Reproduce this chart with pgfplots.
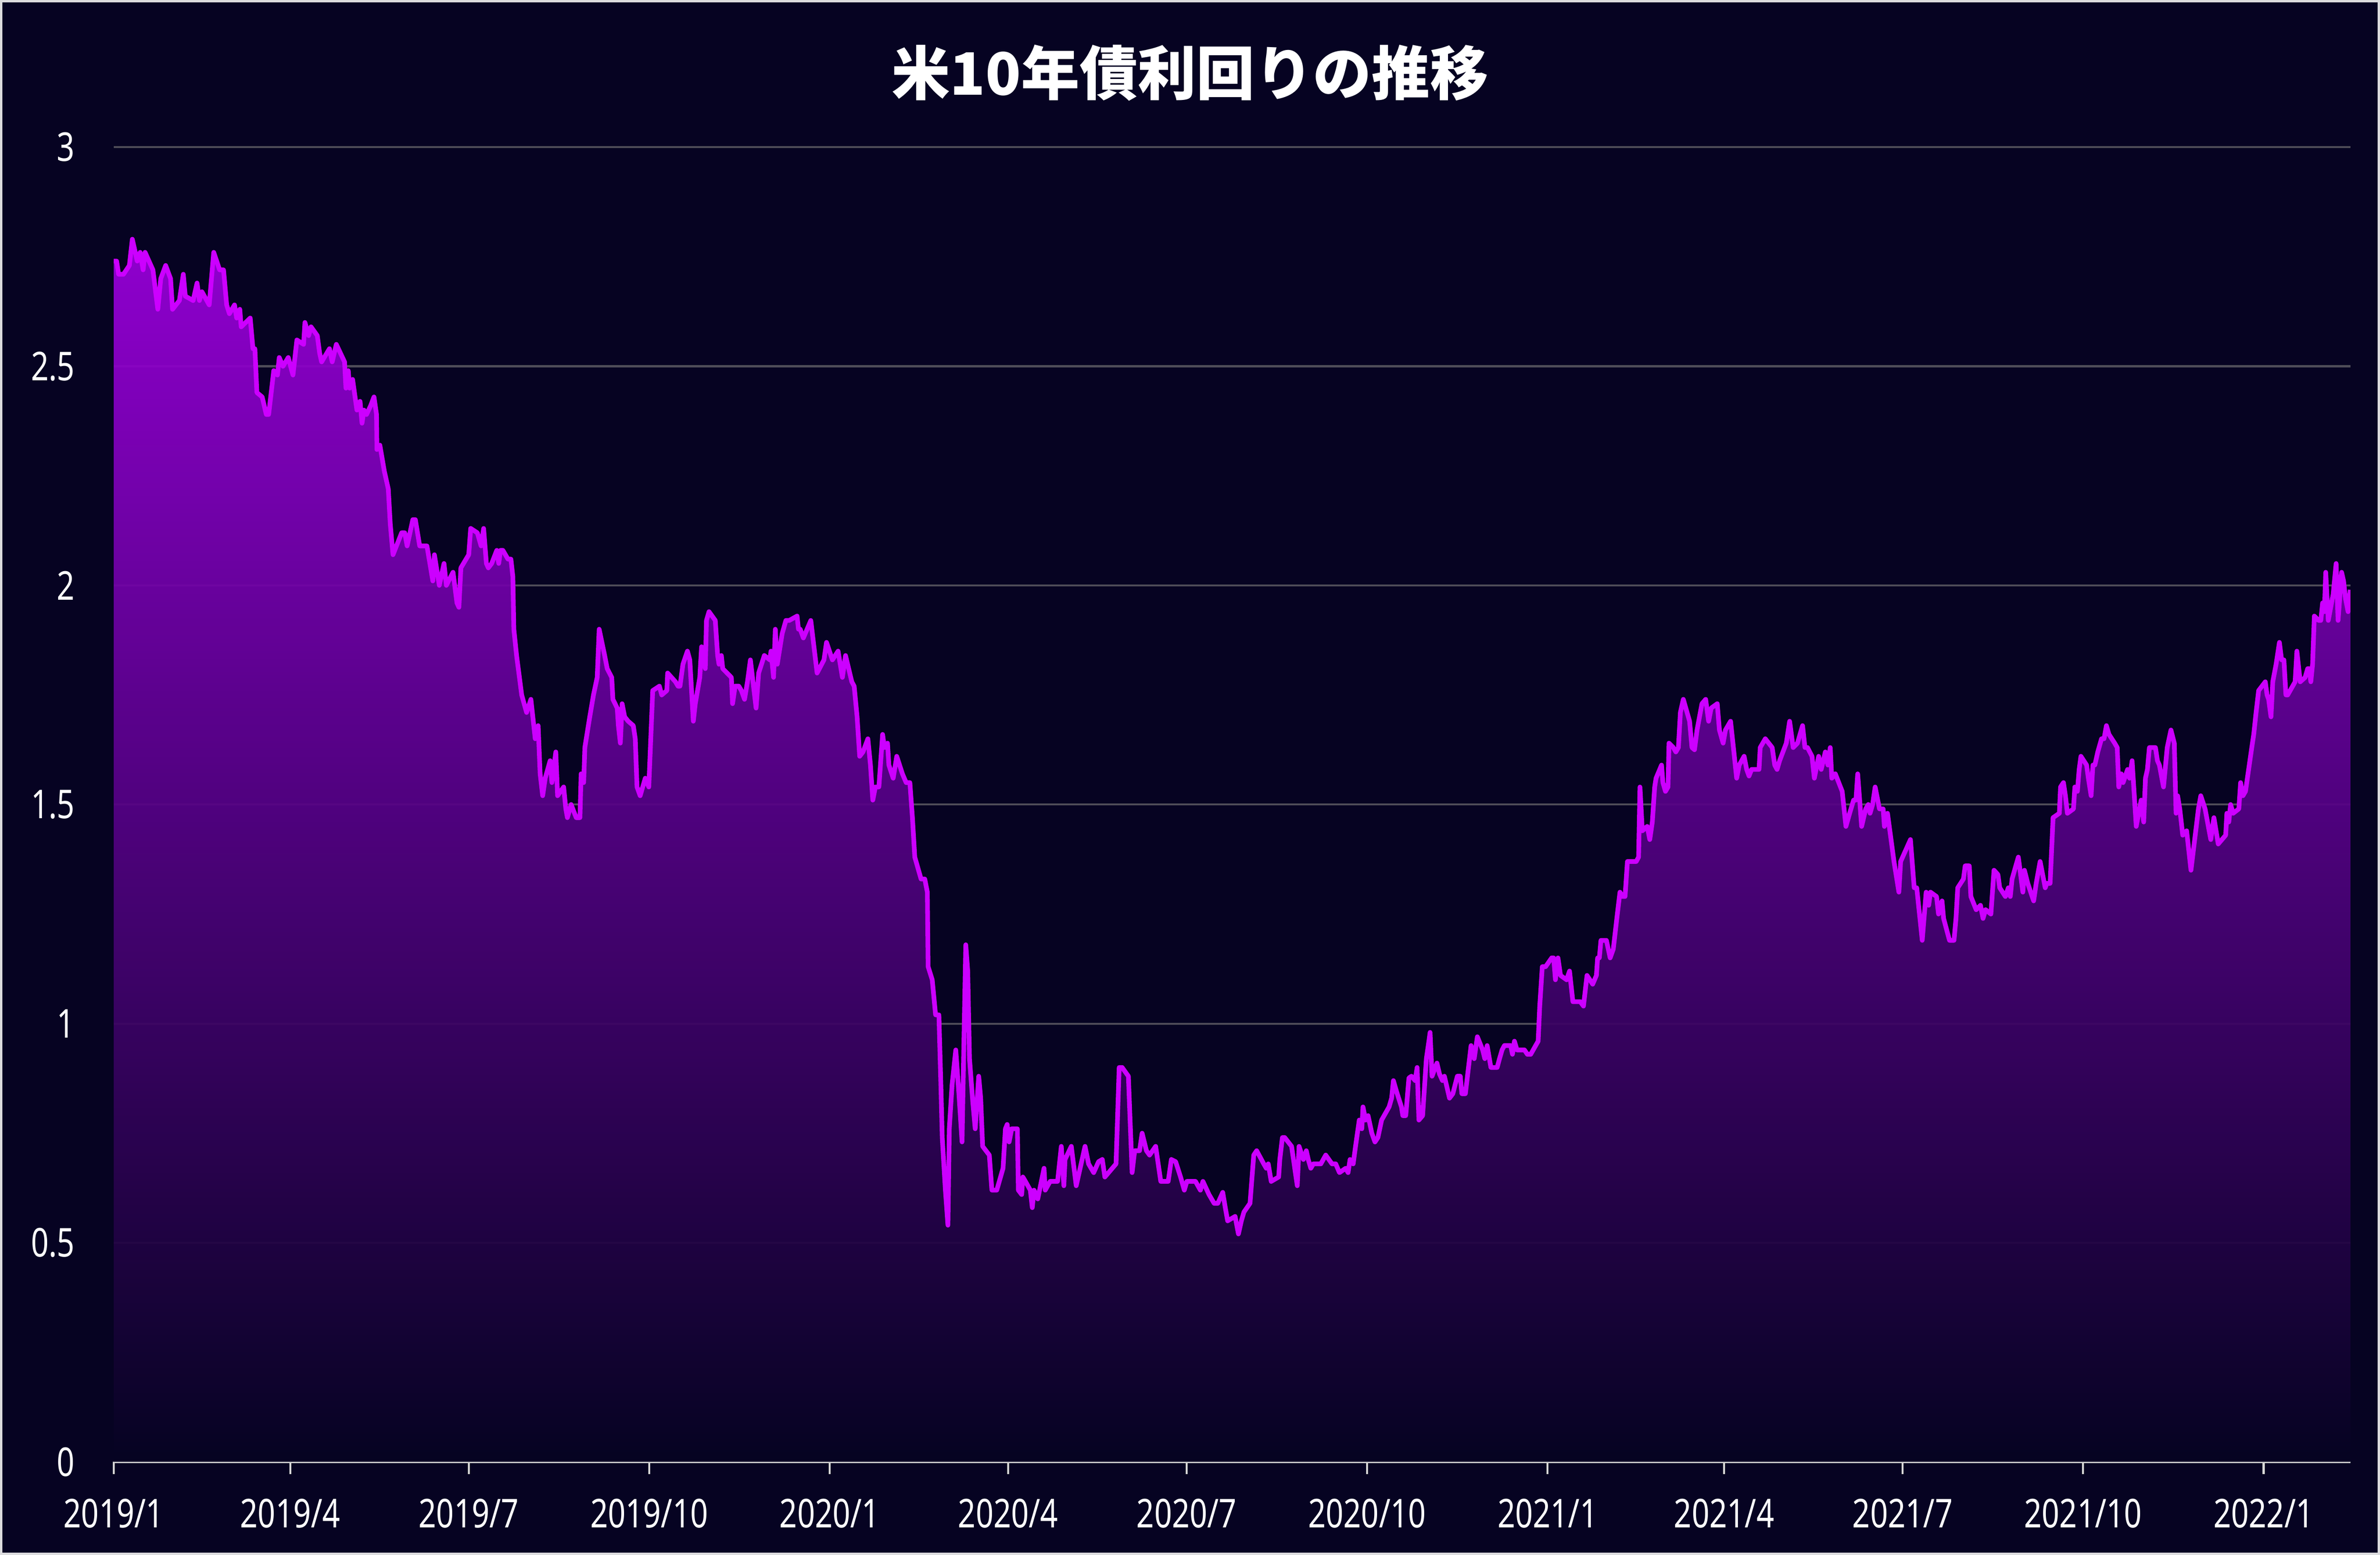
\documentclass[border=0pt]{standalone}
\usepackage{pgfplots}
\pgfplotsset{compat=1.18}
\usepackage{pgfplotstable}
\usepackage{fontspec}
\setmainfont{Noto Sans}
\newfontfamily\tickfont{Noto Sans}[FakeStretch=0.78]
\newfontfamily\cjk{Noto Sans CJK JP}
\definecolor{bg}{RGB}{6,3,34}
\definecolor{framegray}{RGB}{220,220,222}
\definecolor{linec}{RGB}{204,0,255}
\definecolor{filltop}{RGB}{156,0,222}
\definecolor{gridc}{RGB}{78,76,88}
\definecolor{axisc}{RGB}{215,215,215}

\pgfplotstableread{
d y
0 2.74
1.5 2.74
2.5 2.71
5 2.71
8 2.73
9.5 2.79
12 2.74
13.5 2.76
15 2.72
16 2.76
20 2.72
22.5 2.63
24 2.70
26.5 2.73
29 2.70
30 2.63
33.5 2.65
35.5 2.71
36.5 2.66
40.5 2.65
42.5 2.69
43.7 2.65
45 2.67
48.7 2.64
51 2.76
54 2.72
56 2.72
57.6 2.64
59 2.62
61.6 2.64
62.7 2.61
64.3 2.63
65 2.59
69.6 2.61
71 2.54
72 2.54
73 2.44
75.7 2.43
77.8 2.39
79 2.39
81.6 2.49
83.5 2.48
84.4 2.52
86.3 2.50
89 2.52
91.4 2.48
93.4 2.56
96.8 2.55
97.5 2.60
99.4 2.57
100.6 2.59
103.8 2.57
105 2.53
106 2.51
110 2.54
111.4 2.51
113.5 2.55
117.7 2.51
118.4 2.45
119.6 2.49
120.3 2.45
121.8 2.47
124 2.40
125.6 2.42
126.6 2.37
127.6 2.40
128.9 2.39
131 2.41
132.7 2.43
134 2.39
134.2 2.31
135.7 2.32
138 2.26
140 2.22
141 2.14
142.4 2.07
146.8 2.12
148.4 2.12
149.6 2.09
152.5 2.15
153.8 2.15
156 2.09
159.7 2.09
162.7 2.01
163.5 2.07
166 2.00
168.4 2.05
169.6 2.00
173 2.03
175 1.96
176 1.95
177 2.04
181 2.07
182 2.13
185.4 2.12
187.3 2.09
188.6 2.13
190 2.05
191 2.04
192.7 2.05
195.3 2.08
196.3 2.05
197.2 2.08
198.4 2.08
201 2.06
202.5 2.06
203.5 2.02
204 1.90
205.4 1.84
208 1.75
210.5 1.71
212.7 1.74
214.9 1.65
216.4 1.68
217.4 1.57
218.7 1.52
220 1.56
222.5 1.60
223.4 1.55
225.4 1.62
226.3 1.52
229.4 1.54
230.5 1.49
231.3 1.47
233.2 1.50
235.8 1.47
237.7 1.47
238.3 1.57
239.6 1.55
240.2 1.63
242.7 1.70
244.6 1.75
246.5 1.79
247.5 1.90
250.3 1.84
251.6 1.81
253.9 1.79
254.5 1.74
256.7 1.72
257.3 1.68
258.3 1.64
259.2 1.73
260.5 1.70
262.3 1.69
264.9 1.68
265.9 1.65
266.8 1.54
268.4 1.52
271 1.56
272.8 1.54
274.8 1.76
278.2 1.77
279.4 1.75
282 1.76
282.4 1.80
286.4 1.78
287.7 1.77
288.7 1.77
290.2 1.82
292.5 1.85
293.7 1.83
295.5 1.69
296.5 1.73
298.8 1.79
299.7 1.86
301.6 1.81
302.2 1.92
303.5 1.94
306.7 1.92
307.9 1.84
308.6 1.82
309.8 1.84
310.5 1.81
314.9 1.79
315.5 1.73
316.8 1.77
318.7 1.77
320 1.76
321.6 1.74
323.1 1.78
324.6 1.83
327.5 1.72
328.8 1.80
331.7 1.84
334.5 1.83
335.1 1.85
336.4 1.79
337.3 1.90
338.3 1.82
340.8 1.89
342.7 1.92
344.4 1.92
348.4 1.93
349.1 1.90
350 1.90
351.6 1.88
355.4 1.92
357 1.86
358.6 1.80
362.1 1.83
363.4 1.87
366.4 1.83
369.3 1.85
371.5 1.79
373.1 1.84
376.3 1.78
377.5 1.77
379 1.70
380.3 1.61
382 1.62
384.5 1.65
385.8 1.59
387 1.51
388.3 1.54
390.1 1.54
392 1.66
392.9 1.63
394.5 1.64
395.2 1.59
397.4 1.56
399.2 1.61
402.1 1.57
404 1.55
405.9 1.55
407.2 1.47
408.4 1.38
411.6 1.33
413.5 1.33
414.8 1.30
415.2 1.13
417.3 1.10
419 1.02
420.7 1.02
421.7 0.86
422.4 0.74
424 0.62
425.3 0.54
426 0.76
427.4 0.86
429.3 0.94
430.9 0.84
432.5 0.73
433.4 0.95
434.4 1.18
435.4 1.12
436.3 0.92
438 0.82
439.2 0.76
441 0.88
442 0.83
443 0.72
446.4 0.70
447.7 0.62
450.2 0.62
453.4 0.67
454.6 0.76
455.5 0.77
456.5 0.73
457.8 0.76
460.7 0.76
461.2 0.62
462.9 0.61
463.5 0.65
464.8 0.64
467.3 0.62
468.3 0.58
469.2 0.62
471.1 0.60
474.3 0.67
474.9 0.62
477.4 0.64
481.2 0.64
483.1 0.72
484.4 0.63
485 0.69
488.2 0.72
490.7 0.63
495.2 0.72
497 0.68
499.6 0.66
502.1 0.685
504 0.69
505.3 0.65
511 0.68
512.6 0.90
514.1 0.90
517.3 0.88
519.2 0.66
520.5 0.71
523 0.71
524.3 0.75
526.5 0.71
528.1 0.70
531.2 0.72
533.8 0.64
537.6 0.64
539.2 0.69
541.4 0.685
543.9 0.65
545.8 0.62
547.1 0.64
551.5 0.64
554 0.62
555.3 0.64
558.4 0.61
561 0.59
562.9 0.59
565.4 0.615
566.7 0.58
567.9 0.55
571.7 0.56
573.4 0.52
574.9 0.55
576.2 0.57
579.3 0.59
581.2 0.70
582.7 0.71
586.3 0.68
587.6 0.67
588.6 0.68
590.1 0.64
593.9 0.65
594.5 0.69
595.8 0.74
597 0.74
600.5 0.72
602.1 0.67
603.4 0.63
604.3 0.72
606.5 0.69
608 0.71
609 0.69
610.3 0.67
611.6 0.68
615.4 0.68
617.9 0.70
621.1 0.68
623 0.68
624.9 0.66
628.1 0.67
629.3 0.66
630.3 0.69
631.9 0.68
633.1 0.72
635 0.78
636.3 0.76
636.9 0.81
638.2 0.78
639.5 0.79
641.4 0.75
643 0.73
644.5 0.74
646.4 0.78
650.2 0.81
651.5 0.83
652.4 0.87
654 0.845
656.5 0.81
657.2 0.79
658.7 0.79
660.3 0.876
661.6 0.88
663.5 0.87
664.5 0.90
665.4 0.78
667.3 0.79
669.2 0.92
670.5 0.96
671.1 0.98
672.1 0.88
674.6 0.91
675.9 0.885
677.4 0.87
678.4 0.88
681 0.83
682.7 0.84
685 0.88
686.5 0.88
687.3 0.84
689.1 0.84
692 0.95
693.6 0.92
695.2 0.97
697.9 0.94
699 0.92
700.2 0.95
702.1 0.90
705.3 0.90
706.5 0.92
707.8 0.94
709 0.95
712.2 0.95
713.1 0.93
714.1 0.96
715.4 0.94
719.2 0.94
720.7 0.93
722.4 0.93
726.2 0.96
727 1.04
728.3 1.13
730 1.13
733.1 1.15
734.1 1.15
735 1.10
736.3 1.15
737.6 1.11
740.7 1.10
742.2 1.12
743.9 1.05
747.7 1.05
749.3 1.04
751.1 1.11
754 1.09
755.9 1.11
756.5 1.15
757.4 1.15
758.2 1.19
761 1.19
762.9 1.15
764.5 1.17
766.3 1.24
767.9 1.30
769.2 1.29
770.5 1.29
771.7 1.37
776.2 1.37
777.4 1.38
778.1 1.54
779.3 1.44
781.8 1.45
783.1 1.42
784.4 1.46
785.6 1.54
786.3 1.56
789.1 1.59
789.8 1.55
791.1 1.53
792.4 1.54
792.9 1.64
795.1 1.63
796.4 1.62
797.7 1.63
798.7 1.71
800.2 1.74
803.4 1.69
804.6 1.63
805.9 1.625
807.2 1.67
809.7 1.73
811.6 1.74
813.1 1.69
814.4 1.72
817.5 1.73
818.6 1.67
820.5 1.64
821.7 1.67
824.3 1.69
825.5 1.64
827.4 1.56
828.7 1.59
831.2 1.61
832.5 1.58
833.7 1.565
835 1.58
838.8 1.58
839.4 1.63
842 1.65
845.5 1.63
846.8 1.59
848 1.58
849.3 1.60
852.7 1.64
854.4 1.69
856.2 1.63
858.4 1.64
861 1.68
862.2 1.63
863.5 1.63
865.8 1.61
867 1.56
869.2 1.61
870.5 1.58
872.6 1.62
873.9 1.59
875.1 1.63
875.9 1.56
877.7 1.57
881.2 1.53
883.1 1.45
885 1.48
887 1.51
888.2 1.51
889.1 1.57
891.1 1.45
893.2 1.49
894.5 1.50
895.4 1.48
896.7 1.50
898 1.54
900.2 1.49
902.1 1.49
902.7 1.45
904.3 1.48
905.5 1.44
907.6 1.37
910.1 1.30
911 1.37
916 1.42
917.9 1.31
919.2 1.31
922 1.19
924 1.30
925.3 1.27
926.2 1.30
929.3 1.29
930.3 1.25
932.1 1.28
932.9 1.24
935.9 1.19
938.2 1.19
939.2 1.24
940.1 1.31
943 1.33
943.9 1.36
946 1.36
946.8 1.29
949.5 1.26
951.7 1.27
953 1.24
954.3 1.26
957 1.25
958.6 1.35
960.6 1.34
961.5 1.31
964.4 1.29
965.9 1.31
966.9 1.29
967.8 1.33
971 1.38
973.3 1.30
974.1 1.35
975.8 1.32
978.8 1.28
980.1 1.32
982.1 1.37
984.7 1.31
985.5 1.32
987.2 1.32
988.1 1.41
988.7 1.47
991.9 1.48
992.5 1.54
994 1.55
995 1.52
996 1.48
999.1 1.49
999.8 1.54
1001.1 1.53
1002 1.58
1002.9 1.61
1005.8 1.59
1006.7 1.56
1008.1 1.52
1009 1.59
1010 1.59
1011.5 1.62
1013.4 1.65
1014.7 1.65
1015.9 1.68
1017.2 1.66
1020.1 1.64
1021.4 1.63
1022.2 1.54
1023.5 1.57
1024.4 1.55
1026.7 1.58
1027.7 1.56
1029 1.60
1031.1 1.45
1033.6 1.51
1034.9 1.46
1035.8 1.56
1036.8 1.58
1037.8 1.63
1040.9 1.63
1041.9 1.60
1042.9 1.59
1045 1.54
1046.9 1.63
1048.8 1.67
1050.5 1.64
1051.4 1.48
1052.2 1.52
1053.3 1.49
1054.8 1.43
1056.8 1.44
1059 1.35
1060.9 1.42
1062.8 1.49
1064 1.52
1066.2 1.49
1069.1 1.42
1070.7 1.47
1072.9 1.41
1076.7 1.43
1077.3 1.48
1078.3 1.46
1079.2 1.50
1080.5 1.48
1083.4 1.49
1084.3 1.55
1085.5 1.52
1086.8 1.53
1090 1.63
1091 1.66
1092.2 1.71
1093.5 1.76
1096.9 1.78
1097.8 1.75
1098.6 1.74
1099.8 1.70
1100.7 1.78
1102.4 1.82
1104.1 1.87
1105.2 1.83
1106.4 1.83
1107.4 1.75
1108.3 1.75
1112.1 1.78
1113 1.85
1114.7 1.78
1117.2 1.79
1118.5 1.81
1119.3 1.81
1120.1 1.78
1121 1.82
1121.9 1.93
1124.1 1.92
1125.2 1.92
1126.1 1.96
1127 1.94
1127.7 2.03
1129 1.92
1131.5 1.98
1133 2.05
1134 1.92
1135.8 2.03
1136.8 2.01
1137.8 1.97
1139.1 1.94
1140.2 1.99
}\yielddata

\begin{document}
\begin{tikzpicture}
\fill[framegray] (-29.2bp,-23.9bp) rectangle (582.1bp,375.5bp);
\fill[bg] (-28.55bp,-23.3bp) rectangle (581.5bp,374.85bp);
\path[use as bounding box] (-29.2bp,-23.9bp) rectangle (582.1bp,375.5bp);
\begin{axis}[
  at={(0,0)}, anchor=south west,
  scale only axis, width=574.5bp, height=337.7bp,
  xmin=0, xmax=1140.3, ymin=0, ymax=3,
  axis lines*=left,
  x axis line style={color=axisc, line width=0.55bp},
  y axis line style={draw=none},
  tick align=outside,
  major tick length=3.1bp,
  xtick={0,90,181,273,365,456,547,639,731,821,912,1004,1096},
  xticklabels={2019/1,2019/4,2019/7,2019/10,2020/1,2020/4,2020/7,2020/10,2021/1,2021/4,2021/7,2021/10,2022/1},
  ytick={0,0.5,1,1.5,2,2.5,3},
  yticklabels={0,0.5,1,1.5,2,2.5,3},
  x tick style={color=axisc, line width=0.53bp},
  y tick style={draw=none},
  ymajorgrids,
  major grid style={color=gridc, line width=0.5bp},
  ticklabel style={text=white, font=\tickfont\fontsize{10.2bp}{12bp}\selectfont, inner sep=0pt},
  xticklabel style={anchor=base, yshift=-13.75bp},
  yticklabel style={anchor=east, xshift=-6.7bp},
  clip=true,
]
\addplot[draw=none, top color=filltop, bottom color=bg, fill opacity=0.92] table[x=d, y=y] {\yielddata} \closedcycle;
\addplot[color=linec, line width=1.2bp, line join=round, mark=none] table[x=d, y=y] {\yielddata};
\end{axis}
\node[text=white, font=\cjk\bfseries\fontsize{15bp}{18bp}\selectfont] at (276.45bp,356.8bp) {米10年債利回りの推移};
\end{tikzpicture}
\end{document}
